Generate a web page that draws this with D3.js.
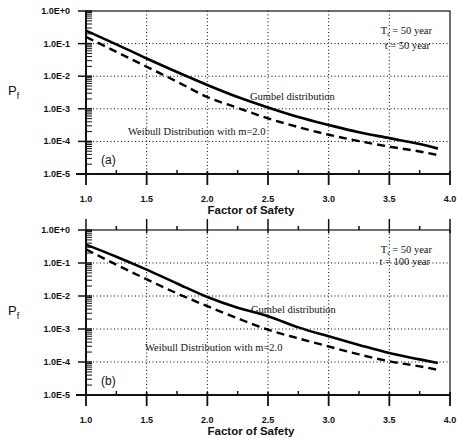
<!DOCTYPE html>
<html>
<head>
<meta charset="utf-8">
<script src="https://cdn.jsdelivr.net/npm/d3@7"></script>
<style>
  body { margin: 0; background: #fff; }
  .tick-lab { font-family: Arial, "Liberation Sans", sans-serif; font-weight: bold; font-size: 9px; fill: #111; }
  .axis-title { font-family: Arial, "Liberation Sans", sans-serif; font-weight: bold; font-size: 11.5px; fill: #111; }
  .note { font-family: "Times New Roman", "Liberation Serif", serif; font-size: 10.5px; fill: #111; }
</style>
</head>
<body>
<div id="chart"></div>
<script>
// factor of safety sample points
const factorOfSafety = [1.0, 1.25, 1.5, 1.75, 2.0, 2.25, 2.5, 2.75, 3.0, 3.25, 3.5, 3.75, 3.9];

// panel (a): Tr = 50 year, t = 50 year
const gumbelA  = [2.5e-1, 9.5e-2, 3.5e-2, 1.35e-2, 5.4e-3, 2.3e-3, 1.1e-3, 5.6e-4, 3.2e-4, 1.9e-4, 1.26e-4, 8.3e-5, 6.0e-5];
const weibullA = [1.6e-1, 5.6e-2, 1.95e-2, 6.8e-3, 2.3e-3, 1.07e-3, 5.1e-4, 2.75e-4, 1.6e-4, 1.02e-4, 6.9e-5, 4.9e-5, 3.8e-5];

// panel (b): Tr = 50 year, t = 100 year
const gumbelB  = [3.6e-1, 1.55e-1, 6.3e-2, 2.4e-2, 9.3e-3, 4.4e-3, 2.45e-3, 1.12e-3, 6.0e-4, 3.3e-4, 1.86e-4, 1.2e-4, 9.3e-5];
const weibullB = [2.6e-1, 8.9e-2, 3.2e-2, 1.2e-2, 4.9e-3, 2.1e-3, 9.5e-4, 5.2e-4, 2.95e-4, 1.7e-4, 1.05e-4, 7.4e-5, 5.8e-5];

const xTicks = [1.0, 1.5, 2.0, 2.5, 3.0, 3.5, 4.0];
const yTicks = [1e0, 1e-1, 1e-2, 1e-3, 1e-4, 1e-5];
const yTickLabels = ["1.0E+0", "1.0E-1", "1.0E-2", "1.0E-3", "1.0E-4", "1.0E-5"];

const panels = [
  { tag: "(a)", top: 11, bottom: 174, gumbel: gumbelA, weibull: weibullA,
    tr: "50 year", t: "t = 50 year", noteY: [34, 49], topTicks: false,
    gumbelLab: [250, 100], weibullLab: [128, 135], tagY: 164 },
  { tag: "(b)", top: 230, bottom: 395, gumbel: gumbelB, weibull: weibullB,
    tr: "50 year", t: "t = 100 year", noteY: [253, 265], topTicks: true,
    gumbelLab: [251, 313], weibullLab: [145, 351], tagY: 385 }
];

const W = 457, H = 438;
const left = 86, right = 450;

let svg = d3.select("#chart").append("svg")
  .attr("width", W)
  .attr("height", H);

let x = d3.scaleLinear().domain([1, 4]).range([left, right]);

panels.forEach(p => {
  let y = d3.scaleLog().domain([1e-5, 1]).range([p.bottom, p.top]);
  let g = svg.append("g");

  // dotted grid
  g.selectAll(".hgrid").data(yTicks.slice(1, 5)).enter().append("line")
    .attr("x1", left).attr("x2", right)
    .attr("y1", d => y(d)).attr("y2", d => y(d))
    .attr("stroke", "#000").attr("stroke-width", 1).attr("stroke-dasharray", "1,2.5");
  g.selectAll(".vgrid").data(xTicks.slice(1, 6)).enter().append("line")
    .attr("x1", d => x(d)).attr("x2", d => x(d))
    .attr("y1", p.top).attr("y2", p.bottom)
    .attr("stroke", "#000").attr("stroke-width", 1).attr("stroke-dasharray", "1,2.5");

  // minor y ticks (inside)
  let minors = [];
  for (let e = -5; e < 0; e++) for (let k = 2; k <= 9; k++) minors.push(k * Math.pow(10, e));
  g.selectAll(".ymin").data(minors).enter().append("line")
    .attr("x1", left).attr("x2", left + 6)
    .attr("y1", d => y(d)).attr("y2", d => y(d))
    .attr("stroke", "#111").attr("stroke-width", 1);

  // major y ticks (outside)
  g.selectAll(".ymaj").data(yTicks).enter().append("line")
    .attr("x1", left - 8).attr("x2", left + 6)
    .attr("y1", d => y(d)).attr("y2", d => y(d))
    .attr("stroke", "#111").attr("stroke-width", 1.5);

  g.selectAll(".ylab").data(yTicks).enter().append("text")
    .attr("class", "tick-lab")
    .attr("x", 70).attr("y", d => y(d) + 3)
    .attr("text-anchor", "end")
    .text((d, i) => yTickLabels[i]);

  // x ticks bottom
  let xMinor = [1.25, 1.75, 2.25, 2.75, 3.25, 3.75];
  g.selectAll(".xmaj").data(xTicks).enter().append("line")
    .attr("x1", d => x(d)).attr("x2", d => x(d))
    .attr("y1", p.bottom - 3).attr("y2", p.bottom + 11)
    .attr("stroke", "#111").attr("stroke-width", 1.8);
  g.selectAll(".xmin").data(xMinor).enter().append("line")
    .attr("x1", d => x(d)).attr("x2", d => x(d))
    .attr("y1", p.bottom - 4).attr("y2", p.bottom)
    .attr("stroke", "#111").attr("stroke-width", 1.5);

  if (p.topTicks) {
    g.selectAll(".xmajt").data(xTicks).enter().append("line")
      .attr("x1", d => x(d)).attr("x2", d => x(d))
      .attr("y1", p.top - 11).attr("y2", p.top + 3)
      .attr("stroke", "#111").attr("stroke-width", 1.5);
    g.selectAll(".xmint").data(xMinor).enter().append("line")
      .attr("x1", d => x(d)).attr("x2", d => x(d))
      .attr("y1", p.top - 4).attr("y2", p.top)
      .attr("stroke", "#111").attr("stroke-width", 1.5);
  }

  g.selectAll(".xlab").data(xTicks).enter().append("text")
    .attr("class", "tick-lab")
    .attr("x", d => x(d)).attr("y", p.bottom + 28)
    .attr("text-anchor", "middle")
    .text(d => d.toFixed(1));

  // frame
  g.append("rect")
    .attr("x", left).attr("y", p.top)
    .attr("width", right - left).attr("height", p.bottom - p.top)
    .attr("fill", "none").attr("stroke", "#111").attr("stroke-width", 1.2);
  g.append("line")
    .attr("x1", left).attr("x2", left).attr("y1", p.top).attr("y2", p.bottom)
    .attr("stroke", "#111").attr("stroke-width", 2);
  g.append("line")
    .attr("x1", left - 10).attr("x2", right).attr("y1", p.bottom).attr("y2", p.bottom)
    .attr("stroke", "#111").attr("stroke-width", 1.8);

  // curves
  let line = d3.line()
    .x((d, i) => x(factorOfSafety[i]))
    .y(d => y(d))
    .curve(d3.curveMonotoneX);

  g.append("path").datum(p.gumbel)
    .attr("d", line)
    .attr("fill", "none").attr("stroke", "#000").attr("stroke-width", 2.6);
  g.append("path").datum(p.weibull)
    .attr("d", line)
    .attr("fill", "none").attr("stroke", "#000").attr("stroke-width", 2.4)
    .attr("stroke-dasharray", "8,5");

  // annotations
  let tr = g.append("text").attr("class", "note")
    .attr("x", 432).attr("y", p.noteY[0]).attr("text-anchor", "end");
  tr.append("tspan").text("T");
  tr.append("tspan").attr("dy", 2).attr("font-size", "7px").text("r");
  tr.append("tspan").attr("dy", -2).text(" = " + p.tr);
  g.append("text").attr("class", "note")
    .attr("x", 430).attr("y", p.noteY[1]).attr("text-anchor", "end")
    .text(p.t);

  g.append("text").attr("class", "note")
    .attr("x", p.gumbelLab[0]).attr("y", p.gumbelLab[1])
    .text("Gumbel distribution");
  g.append("text").attr("class", "note")
    .attr("x", p.weibullLab[0]).attr("y", p.weibullLab[1])
    .text("Weibull Distribution with m=2.0");

  g.append("text").attr("class", "axis-title")
    .attr("x", 101).attr("y", p.tagY)
    .style("font-weight", "normal").style("font-size", "12px")
    .text(p.tag);

  // axis titles
  g.append("text").attr("class", "axis-title")
    .attr("x", 251).attr("y", p.bottom + 40)
    .attr("text-anchor", "middle")
    .text("Factor of Safety");

  let pf = g.append("text").attr("class", "axis-title")
    .attr("x", 8).attr("y", (p.top + p.bottom) / 2 + 2)
    .style("font-weight", "normal").style("font-size", "13px");
  pf.append("tspan").text("P");
  pf.append("tspan").attr("dy", 4).style("font-size", "9px").text("f");
});
</script>
</body>
</html>
